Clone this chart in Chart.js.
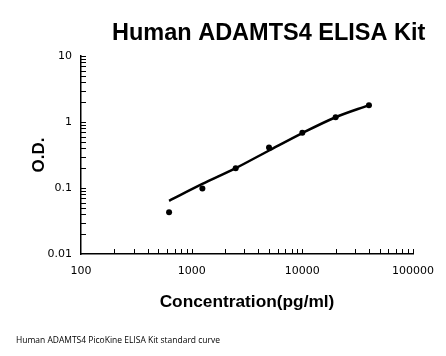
<!DOCTYPE html>
<html><head><meta charset="utf-8">
<script src="https://cdn.jsdelivr.net/npm/chart.js@4"></script>
<style>html,body{margin:0;padding:0;background:#fff;overflow:hidden}#wrap{width:446px;height:356px;position:relative}</style>
</head><body><div id="wrap"><canvas id="c" width="446" height="356"></canvas></div>
<script>
const concentrations = [625, 1250, 2500, 5000, 10000, 20000, 40000];
const odMeasured = [0.043, 0.098, 0.199, 0.41, 0.69, 1.18, 1.80];
const odFitted = [0.064, 0.115, 0.20, 0.37, 0.68, 1.18, 1.80];
const xTickLabels = [100, 1000, 10000, 100000];
const yTickLabels = [0.01, 0.1, 1, 10];
const chartTitle = 'Human ADAMTS4 ELISA Kit';
const xTitle = 'Concentration(pg/ml)';
const yTitle = 'O.D.';
const footnote = 'Human ADAMTS4 PicoKine ELISA Kit standard curve';

function logTicks(majors) {
  const out = [];
  for (let i = 0; i < majors.length; i++) {
    out.push(majors[i]);
    if (i < majors.length - 1) {
      for (let m = 2; m <= 9; m++) out.push(+(majors[i] * m).toPrecision(6));
    }
  }
  return out;
}

const textPlugin = {
  id: 'texts',
  afterDraw(chart) {
    const ctx = chart.ctx, a = chart.chartArea;
    const xs = chart.scales.x, ys = chart.scales.y;
    ctx.save();
    ctx.strokeStyle = '#000';
    ctx.lineWidth = 1;
    ctx.beginPath();
    xs.ticks.forEach(t => {
      const px = Math.round(xs.getPixelForValue(t.value)) + 0.5;
      if (px <= a.left + 1) return;
      ctx.moveTo(px, a.bottom);
      ctx.lineTo(px, a.bottom - 5);
    });
    ys.ticks.forEach(t => {
      const py = Math.round(ys.getPixelForValue(t.value)) + 0.5;
      if (py >= a.bottom - 1) return;
      ctx.moveTo(a.left, py);
      ctx.lineTo(a.left + 5, py);
    });
    ctx.stroke();

    ctx.fillStyle = '#000';
    ctx.textAlign = 'left';
    ctx.textBaseline = 'alphabetic';
    ctx.font = 'bold 23.5px "Liberation Sans", Arial, sans-serif';
    ctx.fillText(chartTitle, 112, 40);

    ctx.textAlign = 'center';
    ctx.font = 'bold 17.3px "Liberation Sans", Arial, sans-serif';
    ctx.fillText(xTitle, (a.left + a.right) / 2, 306.5);

    ctx.save();
    ctx.translate(43.5, (a.top + a.bottom) / 2);
    ctx.rotate(-Math.PI / 2);
    ctx.font = 'bold 17px "Liberation Sans", Arial, sans-serif';
    ctx.fillText(yTitle, 0, 0);
    ctx.restore();

    ctx.textAlign = 'left';
    ctx.font = '9px "Open Sans", sans-serif';
    const w = ctx.measureText(footnote).width;
    ctx.save();
    ctx.translate(16, 343);
    ctx.scale(204 / w, 1);
    ctx.fillText(footnote, 0, 0);
    ctx.restore();
    ctx.restore();
  }
};

new Chart(document.getElementById('c'), {
  type: 'scatter',
  data: {
    datasets: [
      {
        label: 'fit',
        data: concentrations.map((c, i) => ({x: c, y: odFitted[i]})),
        showLine: true,
        borderColor: '#000',
        borderWidth: 2.5,
        pointRadius: 0,
        cubicInterpolationMode: 'monotone',
        fill: false
      },
      {
        label: 'standards',
        data: concentrations.map((c, i) => ({x: c, y: odMeasured[i]})),
        showLine: false,
        pointRadius: 3,
        pointBackgroundColor: '#000',
        pointBorderWidth: 0,
        backgroundColor: '#000'
      }
    ]
  },
  options: {
    responsive: false,
    devicePixelRatio: 1,
    animation: false,
    layout: {padding: {top: 56, right: 33, left: 0, bottom: 0}},
    plugins: {legend: {display: false}, tooltip: {enabled: false}, title: {display: false}},
    scales: {
      x: {
        type: 'logarithmic',
        position: 'bottom',
        min: xTickLabels[0],
        max: xTickLabels[xTickLabels.length - 1],
        afterBuildTicks: s => { s.ticks = logTicks(xTickLabels).map(v => ({value: v})); },
        afterFit: s => { s.height = 102; },
        ticks: {
          autoSkip: false, maxRotation: 0, minRotation: 0, padding: 11, color: '#000',
          font: {family: 'DejaVu Sans', size: 11},
          callback: v => xTickLabels.includes(v) ? String(v) : ''
        },
        grid: {display: false, drawTicks: false, tickLength: 0},
        border: {display: true, color: '#000', width: 1.5}
      },
      y: {
        type: 'logarithmic',
        min: yTickLabels[0],
        max: yTickLabels[yTickLabels.length - 1],
        afterBuildTicks: s => { s.ticks = logTicks(yTickLabels).map(v => ({value: v})); },
        afterFit: s => { s.width = 81; },
        ticks: {
          autoSkip: false, padding: 9, color: '#000',
          font: {family: 'DejaVu Sans', size: 11},
          callback: v => yTickLabels.includes(v) ? String(v) : ''
        },
        grid: {display: false, drawTicks: false, tickLength: 0},
        border: {display: true, color: '#000', width: 1.5}
      }
    }
  },
  plugins: [textPlugin]
});
</script>
</body></html>
